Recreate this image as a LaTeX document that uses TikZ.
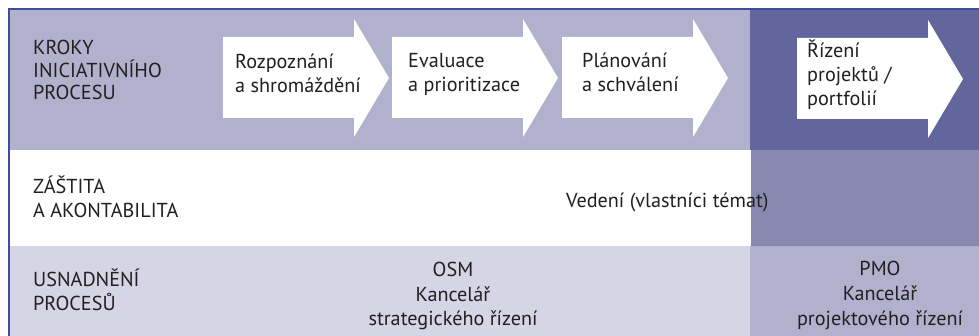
\documentclass[tikz,border=0pt]{standalone}
\usepackage{fontspec}
\setmainfont{PT Sans}
\begin{document}
\definecolor{bandlight}{HTML}{B1B1CD}
\definecolor{banddark}{HTML}{62669C}
\definecolor{bandmid}{HTML}{8889B1}
\definecolor{bandpale}{HTML}{D5D5E5}
\definecolor{frameblue}{HTML}{3C4E99}
\definecolor{ink}{HTML}{231F20}
\begin{tikzpicture}[x=1pt,y=-1pt,
  txt/.style={inner sep=0pt,text=ink,font=\fontsize{20.2}{24.5}\selectfont},
  lefttxt/.style={txt,anchor=base west,align=left},
  midtxt/.style={txt,anchor=base,align=center},
  pics/steparrow/.style={code={
    \fill[white] (0,37) -- (131,37) -- (131,19) -- (166,78) -- (131,137)
      -- (131,118) -- (0,118) -- cycle;}}]
\useasboundingbox (0,0) rectangle (979,336);
% row backgrounds
\fill[bandlight] (9,9) rectangle (750,150);
\fill[banddark]  (750,9) rectangle (979,150);
\fill[white]     (9,150) rectangle (751,246);
\fill[bandmid]   (751,150) rectangle (979,246);
\fill[bandpale]  (9,246) rectangle (750,336);
\fill[bandlight] (750,246) rectangle (979,336);
% frame on top and left
\draw[frameblue,line width=1.2pt] (9,336) -- (9,9) -- (979,9);
% process step arrows
\pic at (223,0) {steparrow};
\pic at (392,0) {steparrow};
\pic at (562,0) {steparrow};
\pic at (797,1) {steparrow};
% row headings (positions give the baseline of the last line)
\node[lefttxt,font=\fontsize{20.2}{22.5}\selectfont] (h1) at (33,100) {KROKY\\INICIATIVNÍHO\\PROCESU};
\node[lefttxt] (h2) at (33,218) {ZÁŠTITA\\A AKONTABILITA};
\node[lefttxt] (h3) at (33,311) {USNADNĚNÍ\\PROCESŮ};
% step labels
\node[lefttxt] (s1) at (235,93) {Rozpoznání\\a shromáždění};
\node[lefttxt] (s2) at (408,92) {Evaluace\\a prioritizace};
\node[lefttxt] (s3) at (582,92) {Plánování\\a schválení};
\node[lefttxt,font=\fontsize{20.2}{24}\selectfont] (s4) at (807,106) {Řízení\\projektů /\\portfolií};
% body texts
\node[lefttxt] (lead) at (566,208) {Vedení (vlastníci témat)};
\node[midtxt] (osm) at (453,326) {OSM\\Kancelář\\strategického řízení};
\node[midtxt] (pmo) at (880,325) {PMO\\Kancelář\\projektového řízení};
\end{tikzpicture}
\end{document}
